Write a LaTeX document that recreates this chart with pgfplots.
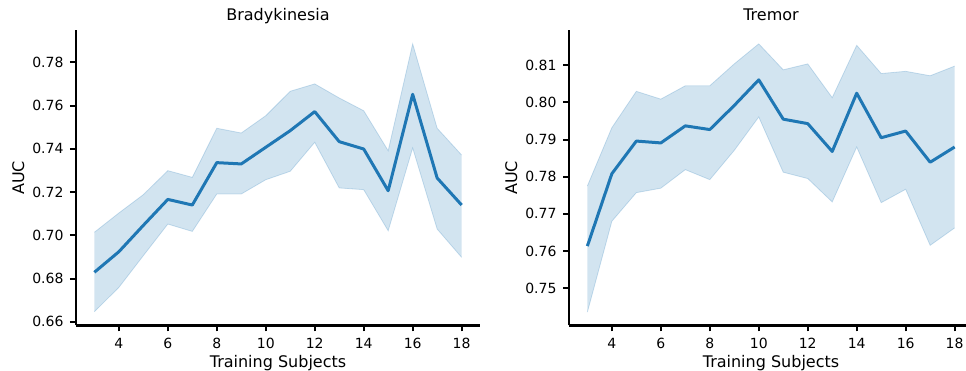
\documentclass[border=0pt]{standalone}
\usepackage{pgfplots}
\pgfplotsset{compat=1.18}
\usepgfplotslibrary{fillbetween}
\usepackage{pgfplotstable}
\usepackage{fontspec}
\setmainfont{DejaVu Sans}
\definecolor{tabblue}{HTML}{1F77B4}

\pgfplotstableread{
x mean lo hi
3 0.6829 0.6647 0.7014
4 0.6924 0.6759 0.7103
5 0.7046 0.6906 0.7188
6 0.7166 0.7052 0.7299
7 0.7140 0.7018 0.7268
8 0.7336 0.7191 0.7495
9 0.7330 0.7191 0.7473
10 0.7407 0.7257 0.7553
11 0.7484 0.7296 0.7666
12 0.7572 0.7430 0.7700
13 0.7433 0.7219 0.7635
14 0.7399 0.7211 0.7576
15 0.7206 0.7021 0.7391
16 0.7652 0.7404 0.7885
17 0.7265 0.7029 0.7495
18 0.7140 0.6898 0.7371
}\brady

\pgfplotstableread{
x mean lo hi
3 0.7613 0.7435 0.7775
4 0.7808 0.7680 0.7932
5 0.7896 0.7757 0.8030
6 0.7891 0.7769 0.8009
7 0.7937 0.7819 0.8045
8 0.7927 0.7792 0.8045
9 0.7992 0.7871 0.8104
10 0.8061 0.7961 0.8158
11 0.7955 0.7812 0.8088
12 0.7943 0.7795 0.8104
13 0.7868 0.7732 0.8013
14 0.8025 0.7880 0.8154
15 0.7905 0.7730 0.8078
16 0.7923 0.7766 0.8084
17 0.7839 0.7615 0.8072
18 0.7880 0.7662 0.8098
}\tremor

\pgfplotsset{myax/.style={
  scale only axis, width=404pt, height=295pt, anchor=south west,
  axis lines=left, axis line style={-, line width=2.9pt, black},
  xmin=2.25, xmax=18.75,
  xtick={4,6,...,18},
  tick align=outside, major tick length=6pt,
  tick style={line width=2pt, black},
  /pgf/number format/assume math mode=true,
  ticklabel style={font=\fontsize{14}{16}\selectfont},
  xticklabel style={yshift=-3pt},
  yticklabel style={xshift=-3pt, /pgf/number format/fixed, /pgf/number format/fixed zerofill, /pgf/number format/precision=2},
  scaled y ticks=false,
  xlabel={Training Subjects}, ylabel={AUC},
  xlabel style={font=\fontsize{16}{19}\selectfont, at={(axis description cs:0.5,-0.1424)}, anchor=base},
  ylabel style={font=\fontsize{16}{19}\selectfont, at={(axis description cs:-0.1287,0.5)}, anchor=base},
  title style={font=\fontsize{16}{19}\selectfont, at={(axis description cs:0.5,1.0119)}, anchor=base},
}}

\begin{document}
\begin{tikzpicture}
\begin{axis}[myax, at={(76pt,45.5pt)}, ymin=0.6583, ymax=0.7947,
  ytick={0.66,0.68,...,0.781}, title={Bradykinesia}]
  \addplot[draw=tabblue, draw opacity=0.22, line width=0.8pt, name path=hi] table[x=x,y=hi]{\brady};
  \addplot[draw=tabblue, draw opacity=0.22, line width=0.8pt, name path=lo] table[x=x,y=lo]{\brady};
  \addplot[fill=tabblue, fill opacity=0.2, draw=none] fill between[of=hi and lo];
  \addplot[tabblue, line width=3pt, line join=round] table[x=x,y=mean]{\brady};
\end{axis}
\begin{axis}[myax, at={(569pt,45.5pt)}, ymin=0.7399, ymax=0.8194,
  ytick={0.75,0.76,...,0.811}, title={Tremor}]
  \addplot[draw=tabblue, draw opacity=0.22, line width=0.8pt, name path=hi] table[x=x,y=hi]{\tremor};
  \addplot[draw=tabblue, draw opacity=0.22, line width=0.8pt, name path=lo] table[x=x,y=lo]{\tremor};
  \addplot[fill=tabblue, fill opacity=0.2, draw=none] fill between[of=hi and lo];
  \addplot[tabblue, line width=3pt, line join=round] table[x=x,y=mean]{\tremor};
\end{axis}
\pgfresetboundingbox
\useasboundingbox (0,0) rectangle (966pt,371pt);
\end{tikzpicture}
\end{document}
